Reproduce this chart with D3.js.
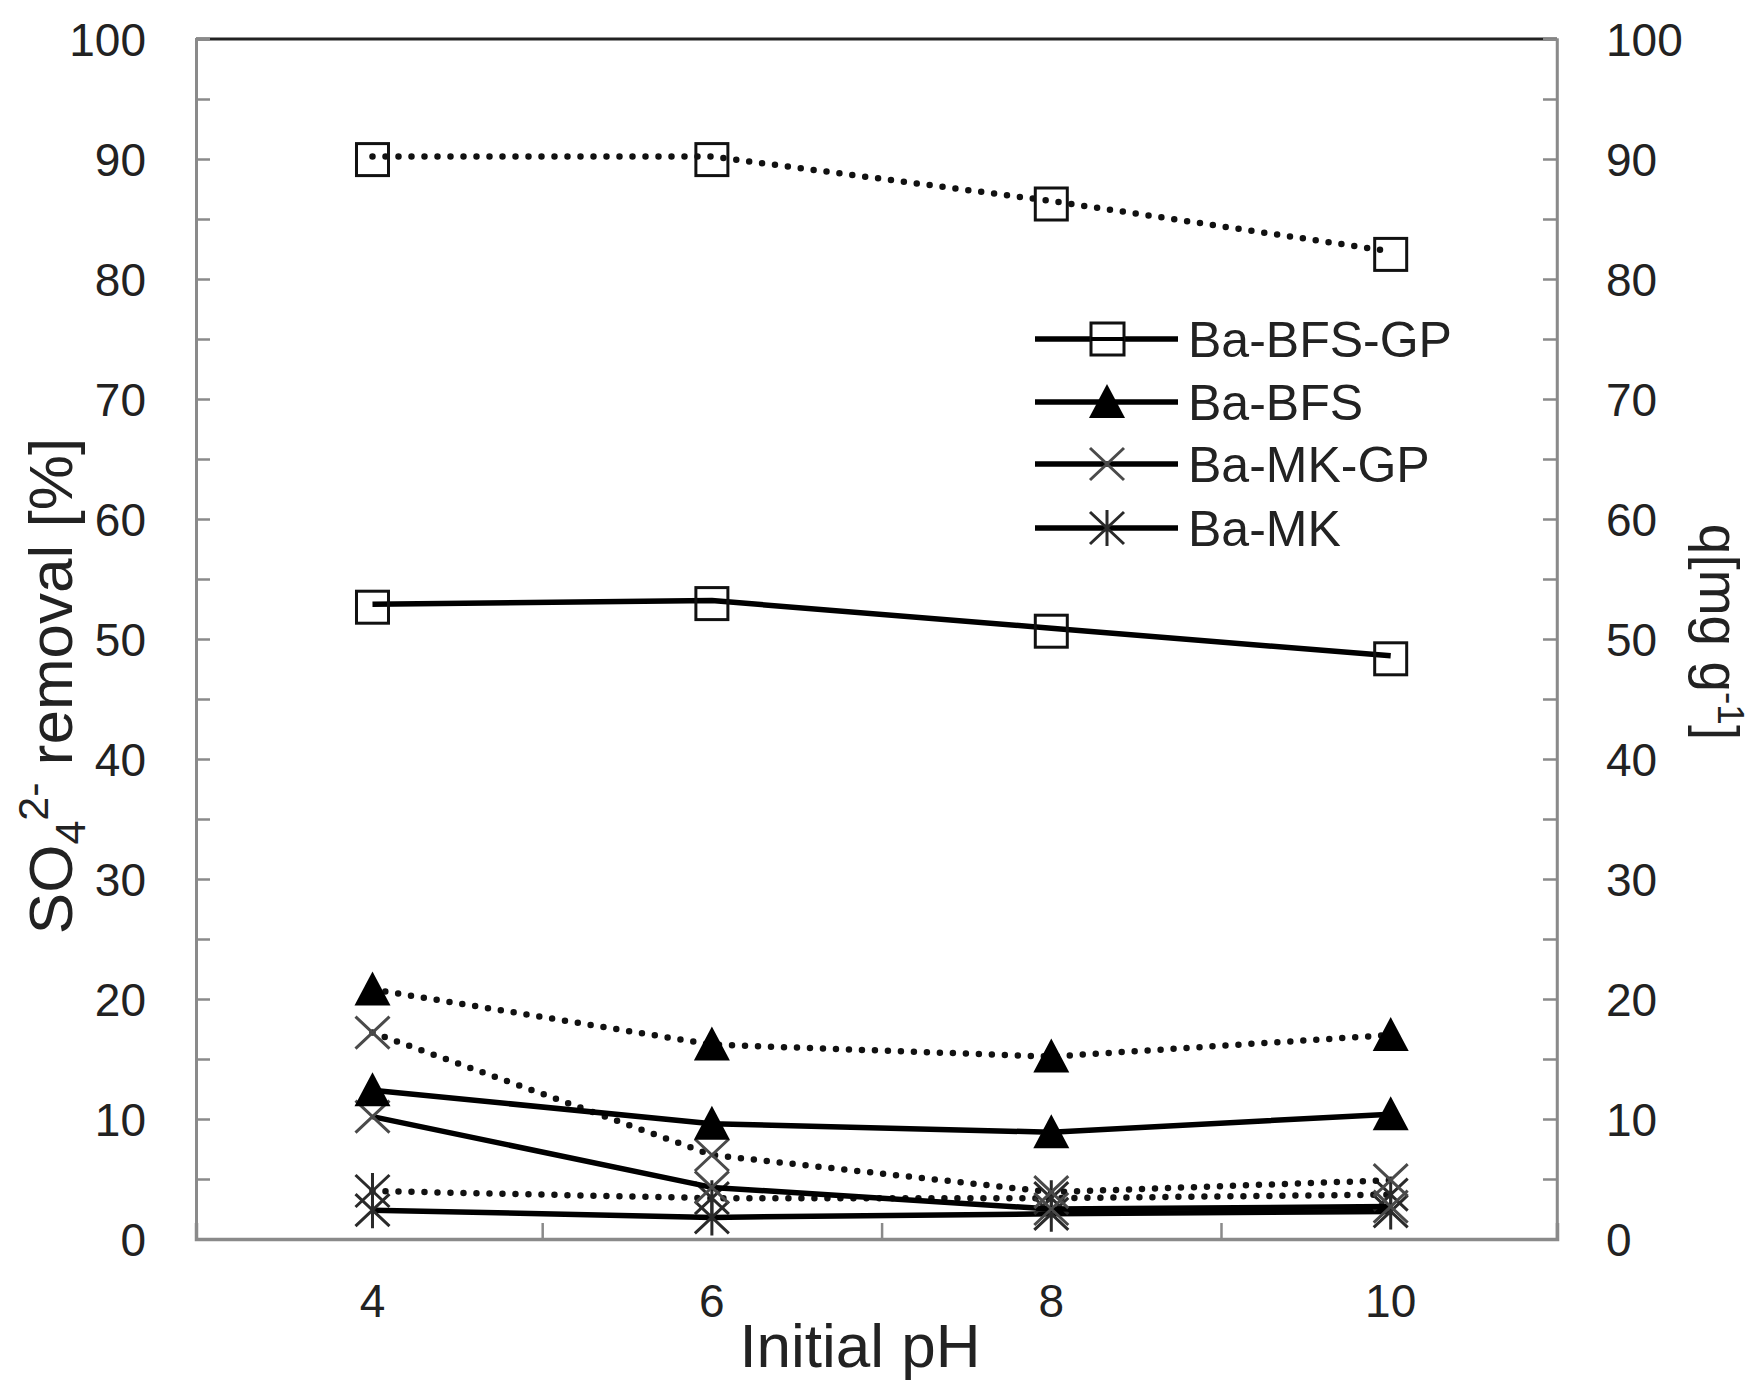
<!DOCTYPE html>
<html>
<head>
<meta charset="utf-8">
<script src="https://cdn.jsdelivr.net/npm/d3@7"></script>
<style>
  html, body { margin: 0; padding: 0; background: #fff; }
  svg { display: block; }
  text { font-family: "Liberation Sans", Arial, sans-serif; fill: #222; }
</style>
</head>
<body>
<svg id="chart" width="1753" height="1382"></svg>
<script>
// ---- data ----
const pH = [4, 6, 8, 10];
const seriesNames = ["Ba-BFS-GP", "Ba-BFS", "Ba-MK-GP", "Ba-MK"];
const markerTypes = ["square", "triangle", "x", "asterisk"];
// solid lines (left axis, SO4 removal %)
const solidBaBFSGP = [52.9, 53.2, 50.9, 48.6];
const solidBaBFS   = [12.4, 9.6, 8.9, 10.4];
const solidBaMKGP  = [10.2, 4.3, 2.5, 2.7];
const solidBaMK    = [2.4, 1.8, 2.1, 2.3];
// dotted lines (right axis, q mg/g)
const dottedBaBFSGP = [90.2, 90.2, 86.5, 82.3];
const dottedBaBFS   = [20.8, 16.2, 15.2, 17.0];
const dottedBaMKGP  = [17.2, 7.0, 3.9, 4.9];
const dottedBaMK    = [4.0, 3.4, 3.4, 3.7];
const xTickLabels = [4, 6, 8, 10];
const xMinorTicks = [5, 7, 9];
const yTickLabels = [0, 10, 20, 30, 40, 50, 60, 70, 80, 90, 100];
const yMinorTicks = [5, 15, 25, 35, 45, 55, 65, 75, 85, 95];

// ---- layout ----
const L = 196, R = 1557, T = 39, B = 1239;
const svg = d3.select("#chart");
const x = d3.scaleLinear().domain([2.96, 10.98]).range([L, R]);
const yL = d3.scaleLinear().domain([0, 100]).range([B, T]);
const yR = d3.scaleLinear().domain([0, 100]).range([B, T]);

const axisGray = "#8a8a8a";

// axes lines
svg.append("line").attr("x1", L).attr("x2", R).attr("y1", T).attr("y2", T)
  .attr("stroke", "#222").attr("stroke-width", 3);
svg.append("line").attr("x1", R).attr("x2", R).attr("y1", T).attr("y2", B)
  .attr("stroke", axisGray).attr("stroke-width", 2.5);

// left axis
const gL = svg.append("g").attr("transform", `translate(${L},0)`)
  .call(d3.axisLeft(yL).tickValues([...yTickLabels, ...yMinorTicks]).tickSize(-14).tickPadding(0).tickFormat(""));
gL.select(".domain").attr("stroke", axisGray).attr("stroke-width", 3);
gL.selectAll(".tick line").attr("stroke", axisGray).attr("stroke-width", 2.5);
svg.append("g").selectAll("text").data(yTickLabels).join("text")
  .attr("x", 146).attr("y", d => yL(d)).attr("dy", "0.36em")
  .attr("text-anchor", "end").attr("font-size", 46).text(d => d);

// right axis
const gR = svg.append("g").attr("transform", `translate(${R},0)`)
  .call(d3.axisRight(yR).tickValues([...yTickLabels, ...yMinorTicks]).tickSize(-14).tickFormat(""));
gR.select(".domain").attr("stroke", axisGray).attr("stroke-width", 2.5);
gR.selectAll(".tick line").attr("stroke", axisGray).attr("stroke-width", 2.5);
svg.append("g").selectAll("text").data(yTickLabels).join("text")
  .attr("x", 1606).attr("y", d => yR(d)).attr("dy", "0.36em")
  .attr("text-anchor", "start").attr("font-size", 46).text(d => d);

// bottom axis
const gB = svg.append("g").attr("transform", `translate(0,${B})`)
  .call(d3.axisBottom(x).tickValues(xMinorTicks).tickSize(-16).tickFormat(""));
gB.select(".domain").attr("stroke", axisGray).attr("stroke-width", 3.5);
gB.selectAll(".tick line").attr("stroke", axisGray).attr("stroke-width", 2.5);
svg.append("g").selectAll("text").data(xTickLabels).join("text")
  .attr("x", d => x(d)).attr("y", 1317)
  .attr("text-anchor", "middle").attr("font-size", 46).text(d => d);

// axis titles
svg.append("text").attr("x", 860).attr("y", 1367).attr("text-anchor", "middle")
  .attr("font-size", 62).text("Initial pH");

const lt = svg.append("text")
  .attr("transform", "translate(72,686) rotate(-90)")
  .attr("text-anchor", "middle").attr("font-size", 62);
lt.append("tspan").text("SO");
lt.append("tspan").attr("font-size", 43).attr("dy", 13).text("4");
lt.append("tspan").attr("font-size", 43).attr("dy", -37).text("2-");
lt.append("tspan").attr("dy", 24).text("  removal [%]");

const rt = svg.append("text")
  .attr("transform", "translate(1700,632) rotate(90)")
  .attr("text-anchor", "middle").attr("font-size", 55);
rt.append("tspan").text("q[mg g");
rt.append("tspan").attr("font-size", 37).attr("dy", -18).text("-1");
rt.append("tspan").attr("dy", 18).text("]");

// ---- markers ----
function drawMarker(g, type, cx, cy) {
  const s = 16;
  if (type === "square") {
    g.append("rect").attr("x", cx - s).attr("y", cy - s + 3).attr("width", 2 * s).attr("height", 2 * s)
      .attr("fill", "none").attr("stroke", "#111").attr("stroke-width", 3);
  } else if (type === "triangle") {
    const h = 34, w = 36;
    g.append("path").attr("d", `M${cx},${cy - h / 2 - 1}L${cx + w / 2},${cy + h / 2 - 1}L${cx - w / 2},${cy + h / 2 - 1}Z`)
      .attr("fill", "#000");
  } else if (type === "x") {
    const a = 17, b = 16;
    g.append("path").attr("d", `M${cx - a},${cy - b}L${cx + a},${cy + b}M${cx - a},${cy + b}L${cx + a},${cy - b}`)
      .attr("stroke", "#4a4a4a").attr("stroke-width", 3).attr("fill", "none");
  } else if (type === "asterisk") {
    const a = 17, b = 16;
    g.append("path").attr("d", `M${cx - a},${cy - b}L${cx + a},${cy + b}M${cx - a},${cy + b}L${cx + a},${cy - b}M${cx},${cy - b - 2}L${cx},${cy + b + 2}`)
      .attr("stroke", "#2a2a2a").attr("stroke-width", 3).attr("fill", "none");
  }
}

const solidSeries = [solidBaBFSGP, solidBaBFS, solidBaMKGP, solidBaMK];
const dottedSeries = [dottedBaBFSGP, dottedBaBFS, dottedBaMKGP, dottedBaMK];

const plot = svg.append("g");
const lineL = d3.line().x((d, i) => x(pH[i])).y(d => yL(d));
const lineR = d3.line().x((d, i) => x(pH[i])).y(d => yR(d));

[3, 2, 1, 0].forEach(k => {
  plot.append("path").datum(dottedSeries[k]).attr("d", lineR)
    .attr("fill", "none").attr("stroke", "#111").attr("stroke-width", 6.5)
    .attr("stroke-linecap", "round").attr("stroke-dasharray", "0 13");
  plot.append("path").datum(solidSeries[k]).attr("d", lineL)
    .attr("fill", "none").attr("stroke", "#000").attr("stroke-width", 5.5)
    .attr("stroke-linejoin", "round");
  const mg = plot.append("g");
  dottedSeries[k].forEach((v, i) => drawMarker(mg, markerTypes[k], x(pH[i]), yR(v)));
  solidSeries[k].forEach((v, i) => drawMarker(mg, markerTypes[k], x(pH[i]), yL(v)));
});

// ---- legend ----
const legY = [339, 402, 464, 528];
const leg = svg.append("g");
seriesNames.forEach((name, i) => {
  leg.append("line").attr("x1", 1035).attr("x2", 1178).attr("y1", legY[i]).attr("y2", legY[i])
    .attr("stroke", "#000").attr("stroke-width", 5.5);
  const mg = leg.append("g");
  if (markerTypes[i] === "square") {
    mg.append("rect").attr("x", 1091).attr("y", legY[i] - 16).attr("width", 33).attr("height", 32)
      .attr("fill", "#fff").attr("stroke", "#111").attr("stroke-width", 3);
    mg.append("line").attr("x1", 1091).attr("x2", 1124).attr("y1", legY[i]).attr("y2", legY[i])
      .attr("stroke", "#000").attr("stroke-width", 4);
  } else {
    drawMarker(mg, markerTypes[i], 1107, legY[i]);
  }
  leg.append("text").attr("x", 1188).attr("y", legY[i]).attr("dy", "0.36em")
    .attr("font-size", 50).text(name);
});
</script>
</body>
</html>
